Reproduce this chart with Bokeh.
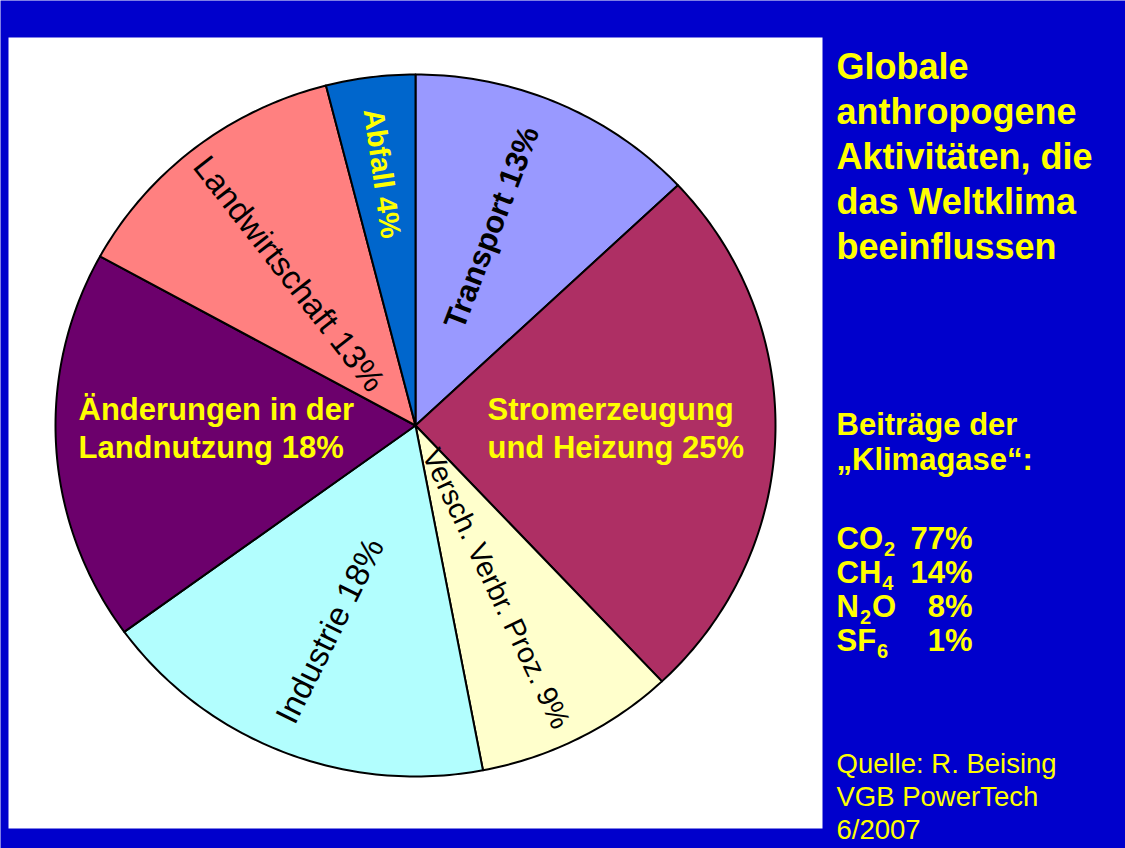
import math
from bokeh.plotting import figure
from bokeh.models import Range1d, ColumnDataSource
from bokeh.core.properties import value
from bokeh.embed import file_html
from bokeh.resources import INLINE

# ---------------- data ----------------
categories = ["Transport", "Stromerzeugung und Heizung", "Versch. Verbr. Proz.",
              "Industrie", "Änderungen in der Landnutzung", "Landwirtschaft", "Abfall"]
shares = [13, 25, 9, 18, 18, 13, 4]
slice_colors = ["#9999FF", "#AE2F64", "#FFFFCC", "#B2FEFE", "#6C006C", "#FF8080", "#0066CC"]
label_colors = ["#000000", "#FFFF00", "#000000", "#000000", "#FFFF00", "#000000", "#FFFF00"]

title_lines = ["Globale", "anthropogene", "Aktivitäten, die", "das Weltklima", "beeinflussen"]
gas_heading = ["Beiträge der", "\u201eKlimagase\u201c:"]
gas_names = ["CO2", "CH4", "N2O", "SF6"]
gas_shares = [77, 14, 8, 1]
source_lines = ["Quelle: R. Beising", "VGB PowerTech", "6/2007"]

# ---------------- styling / layout ----------------
BLUE = "#0000CC"
YELLOW = "#FFFF00"
FONT = value("Liberation Sans")
W, H = 1125, 848


def Y(yr):
    return H - yr


p = figure(width=W, height=H, x_range=Range1d(0, W), y_range=Range1d(0, H),
           output_backend="svg", toolbar_location=None, min_border=0,
           x_axis_location=None, y_axis_location=None)
p.grid.visible = False
p.outline_line_color = None
p.background_fill_color = BLUE
p.border_fill_color = BLUE

# white panel
p.quad(left=8, right=822, bottom=Y(828), top=Y(37), fill_color="white", line_color=None)

# pie (slightly elliptical, as in the original slide)
CX, CY, RX, RY = 415, Y(425), 360, 351
xs, ys = [], []
cum = 0.0
total = float(sum(shares))
for s in shares:
    a0 = math.pi / 2 - 2 * math.pi * cum / total
    cum += s
    a1 = math.pi / 2 - 2 * math.pi * cum / total
    n = max(8, int(s * 4))
    px, py = [CX], [CY]
    for k in range(n + 1):
        t = a0 + (a1 - a0) * k / n
        px.append(CX + RX * math.cos(t))
        py.append(CY + RY * math.sin(t))
    xs.append(px)
    ys.append(py)
src = ColumnDataSource(dict(xs=xs, ys=ys, color=slice_colors))
p.patches(xs="xs", ys="ys", fill_color="color", line_color="black", line_width=2,
          line_join="round", source=src)

# slice labels: (x, y-centre, angle deg, size px, style, first-line word count or None)
label_layout = [
    (491, 227, 69, 31, "bold", None),
    (487, 409, 0, 31, "bold", 1),
    (496, 588, -64.5, 29, "normal", None),
    (329, 630, 63.5, 33, "normal", None),
    (78, 409, 0, 31, "bold", 3),
    (289, 273, -52, 33, "normal", None),
    (382, 173, -82, 29, "bold", None),
]
for cat, sh, col, (lx, ly, ang, size, style, wrap) in zip(categories, shares, label_colors, label_layout):
    txt = f"{cat} {sh}%"
    if wrap is None:
        p.text(x=[lx], y=[Y(ly)], text=[txt], angle=ang, angle_units="deg",
               text_align="center", text_baseline="middle", text_color=col,
               text_font=FONT, text_font_size=f"{size}px", text_font_style=style)
    else:
        words = txt.split(" ")
        lines = [" ".join(words[:wrap]), " ".join(words[wrap:])]
        for i, ln in enumerate(lines):
            p.text(x=[lx], y=[Y(ly + 38 * i)], text=[ln], text_align="left",
                   text_baseline="middle", text_color=col, text_font=FONT,
                   text_font_size=f"{size}px", text_font_style=style)

# right panel title
for i, ln in enumerate(title_lines):
    p.text(x=[836], y=[Y(66 + 45 * i)], text=[ln], text_align="left", text_baseline="middle",
           text_color=YELLOW, text_font=FONT, text_font_size="36px", text_font_style="bold")

for i, ln in enumerate(gas_heading):
    p.text(x=[836], y=[Y(424 + 35 * i)], text=[ln], text_align="left", text_baseline="middle",
           text_color=YELLOW, text_font=FONT, text_font_size="31px", text_font_style="bold")

# gases with subscripts
bold_w = {"C": 722, "O": 778, "H": 722, "N": 722, "S": 667, "F": 611}
MAIN = 31
SUB = 20
for i, (g, v) in enumerate(zip(gas_names, gas_shares)):
    yc = 538 + 34 * i
    x = 836.0
    for ch in g:
        if ch.isdigit():
            p.text(x=[x + 1], y=[Y(yc + 10)], text=[ch], text_align="left", text_baseline="middle",
                   text_color=YELLOW, text_font=FONT, text_font_size=f"{SUB}px", text_font_style="bold")
            x += 556 * SUB / 1000 + 2
        else:
            p.text(x=[x], y=[Y(yc)], text=[ch], text_align="left", text_baseline="middle",
                   text_color=YELLOW, text_font=FONT, text_font_size=f"{MAIN}px", text_font_style="bold")
            x += bold_w[ch] * MAIN / 1000
    p.text(x=[972], y=[Y(yc)], text=[f"{v}%"], text_align="right", text_baseline="middle",
           text_color=YELLOW, text_font=FONT, text_font_size=f"{MAIN}px", text_font_style="bold")

for i, ln in enumerate(source_lines):
    p.text(x=[836], y=[Y(763 + 33 * i)], text=[ln], text_align="left", text_baseline="middle",
           text_color=YELLOW, text_font=FONT, text_font_size="27.5px", text_font_style="normal")

open("out.html", "w").write(file_html(p, INLINE))
